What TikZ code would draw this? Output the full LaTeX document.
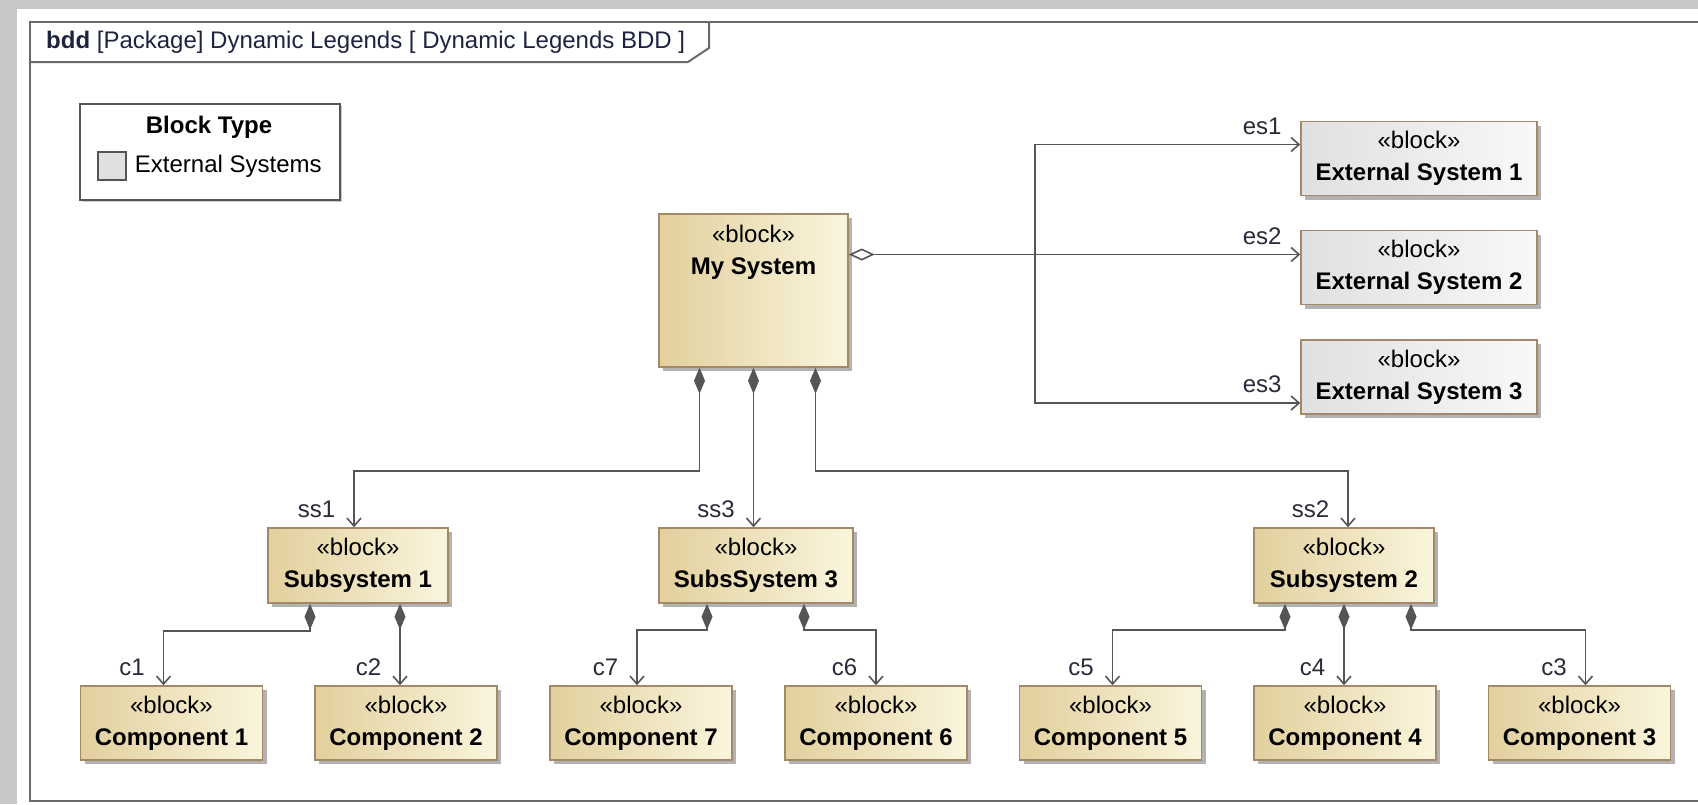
\documentclass[tikz,border=0pt]{standalone}
\usepackage{fontspec}
\setmainfont{Liberation Sans}
\usetikzlibrary{arrows.meta,shadows,positioning}

\definecolor{bggray}{HTML}{C8C8C8}
\definecolor{frameline}{HTML}{6A6A6A}
\definecolor{blockline}{HTML}{A48868}
\definecolor{blockdark}{HTML}{E2D09D}
\definecolor{blocklight}{HTML}{FAF5DD}
\definecolor{extdark}{HTML}{E0E0E0}
\definecolor{extlight}{HTML}{F8F8F8}
\definecolor{conline}{HTML}{555555}
\definecolor{roletext}{HTML}{2A2A3A}
\definecolor{titletext}{HTML}{1E2440}

\newcommand{\diafont}{\fontsize{24}{32}\selectfont}

\tikzset{
  block/.style={draw=blockline, line width=1.5pt, left color=blockdark, right color=blocklight,
    minimum height=75pt, align=center, font=\diafont, inner sep=0pt,
    drop shadow={shadow xshift=4pt, shadow yshift=-4pt, fill=black, opacity=0.3}},
  extblock/.style={block, left color=extdark, right color=extlight, minimum width=236pt},
  conn/.style={draw=conline, line width=1.6pt},
  comp/.style={conn, {Diamond[length=26pt,width=11pt,fill=conline]}-{Straight Barb[length=8pt,width=14pt]}},
  aggr/.style={conn, {Diamond[open,fill=white,length=26pt,width=12pt]}-{Straight Barb[length=8pt,width=14pt]}},
  assoc/.style={conn, -{Straight Barb[length=8pt,width=14pt]}},
  role/.style={font=\diafont, text=roletext, anchor=south east, inner sep=0pt, xshift=-18pt, yshift=9pt}
}

\begin{document}
\begin{tikzpicture}[x=1pt,y=-1pt]
  \useasboundingbox (0,0) rectangle (1698,804);
  \fill[bggray] (0,0) rectangle (1698,804);
  \fill[white] (17,9) rectangle (1698,804);

  % frame and tab
  \draw[frameline, line width=2pt] (1698,22) -- (30,22) -- (30,801) -- (1698,801);
  \draw[frameline, line width=2pt] (30,62) -- (688,62) -- (709,48) -- (709,22);
  \node[anchor=west, font=\diafont, text=titletext, inner sep=0pt] (title) at (46,42)
    {\textbf{bdd} [Package] Dynamic Legends [ Dynamic Legends BDD ]};

  % legend
  \node[draw=conline, line width=1.5pt, fill=white, minimum width=260pt, minimum height=96pt,
    drop shadow={shadow xshift=2pt, shadow yshift=-2pt, fill=black, opacity=0.2}] (legend) at (210,152) {};
  \node[font=\diafont\bfseries] (legendtitle) at (209,127) {Block Type};
  \node[draw=conline, line width=1.5pt, fill=extdark, minimum size=28pt, inner sep=0pt] (swatch) at (112,166) {};
  \node[font=\diafont, inner sep=0pt, right=8pt of swatch] (swatchtext) {External Systems};

  % blocks
  \node[block, minimum width=189pt, minimum height=153pt,
    label={[anchor=north, align=center, font=\diafont, yshift=-8pt]north:«block»\\\textbf{My System}}] (mysys) at (753.5,290.5) {};
  \node[block, minimum width=180pt] (ss1) at (358,565.5) {«block»\\\textbf{Subsystem 1}};
  \node[block, minimum width=194pt] (ss3) at (756,565.5) {«block»\\\textbf{SubsSystem 3}};
  \node[block, minimum width=180pt] (ss2) at (1344,565.5) {«block»\\\textbf{Subsystem 2}};
  \foreach \n/\x/\t in {c1/171.5/1, c2/406/2, c7/641/7, c6/876/6, c5/1110.5/5, c4/1345/4, c3/1579.5/3}
    \node[block, minimum width=182pt, minimum height=74pt] (\n) at (\x,723) {«block»\\\textbf{Component \t}};
  \foreach \n/\y/\t in {es1/158.5/1, es2/267.5/2, es3/377/3}
    \node[extblock, minimum height=74pt] (\n) at (1419,\y) {«block»\\\textbf{External System \t}};

  % external systems
  \coordinate (split) at (1035,254.5);
  \draw[aggr] ([yshift=36pt]mysys.east) -- ([yshift=36pt]mysys.east -| es2.west) node[role]{es2};
  \draw[assoc] (split) |- ([yshift=14pt]es1.west) node[role]{es1};
  \draw[assoc] (split) |- ([yshift=-26pt]es3.west) node[role]{es3};

  % subsystems
  \draw[comp] ([xshift=-54pt]mysys.south) -- ++(0,103) -| ([xshift=-4pt]ss1.north) node[role]{ss1};
  \draw[comp] (mysys.south) -- (mysys.south |- ss3.north) node[role]{ss3};
  \draw[comp] ([xshift=62pt]mysys.south) -- ++(0,103) -| ([xshift=4pt]ss2.north) node[role]{ss2};

  % components
  \draw[comp] ([xshift=-48pt]ss1.south) -- ++(0,27) -| ([xshift=-8pt]c1.north) node[role]{c1};
  \draw[comp] ([xshift=42pt]ss1.south) -- ([xshift=42pt]ss1.south |- c2.north) node[role]{c2};
  \draw[comp] ([xshift=-49pt]ss3.south) -- ++(0,26) -| ([xshift=-4pt]c7.north) node[role]{c7};
  \draw[comp] ([xshift=48pt]ss3.south) -- ++(0,26) -| (c6.north) node[role]{c6};
  \draw[comp] ([xshift=-59pt]ss2.south) -- ++(0,26) -| ([xshift=2pt]c5.north) node[role]{c5};
  \draw[comp] (ss2.south) -- (ss2.south |- c4.north) node[role]{c4};
  \draw[comp] ([xshift=67pt]ss2.south) -- ++(0,26) -| ([xshift=6pt]c3.north) node[role]{c3};
\end{tikzpicture}
\end{document}
